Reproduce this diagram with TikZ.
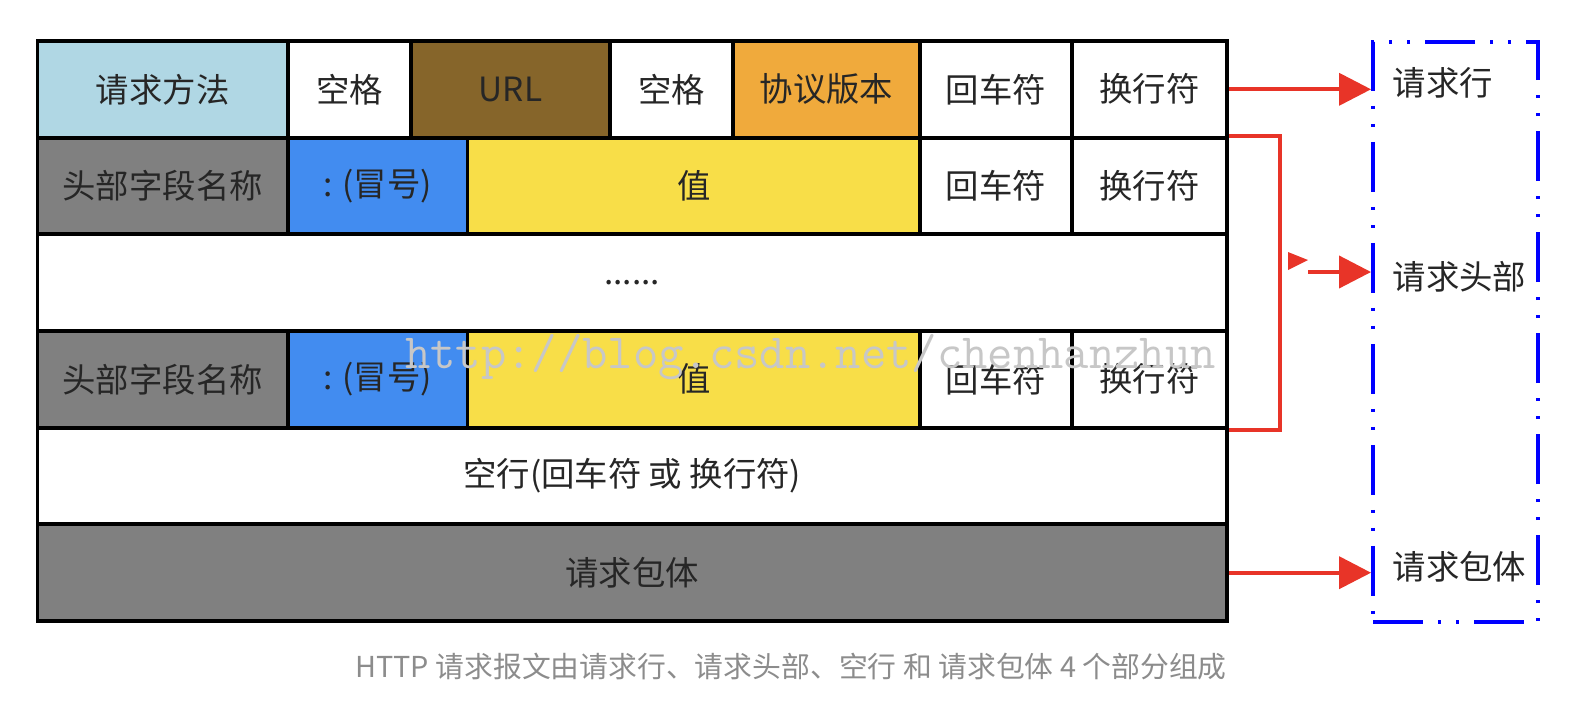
\documentclass[tikz,border=0pt]{standalone}
\usepackage{fontspec}
\setmainfont{Noto Sans CJK SC}
\usetikzlibrary{arrows.meta}

\definecolor{methodblue}{RGB}{176,215,228}
\definecolor{urlbrown}{RGB}{134,101,42}
\definecolor{verorange}{RGB}{240,170,60}
\definecolor{fieldgray}{RGB}{128,128,128}
\definecolor{colonblue}{RGB}{66,140,240}
\definecolor{valueyellow}{RGB}{248,222,72}
\definecolor{arrowred}{RGB}{232,52,40}
\definecolor{capgray}{RGB}{140,140,140}

\begin{document}
\begin{tikzpicture}[
    cell/.style={draw=black, line width=1.1pt, inner sep=0pt, minimum height=0.9667cm,
      text=black!85, font=\fontsize{9.5}{11}\selectfont},
    redline/.style={draw=arrowred, line width=1.1pt},
    redarrow/.style={redline, -{Triangle[length=3.2mm, width=3.2mm]}},
    grouplabel/.style={anchor=west, inner sep=0pt, text=black!85, font=\fontsize{9.5}{11}\selectfont}
  ]
  \useasboundingbox (0,0) rectangle (15.9,-7.04);

  \node[cell, fill=methodblue,  minimum width=2.505cm] (method) at (1.6275,-0.893) {请求方法};
  \node[cell, fill=white,       minimum width=1.23cm]  (sp1)    at (3.495,-0.893)  {空格};
  \node[cell, fill=urlbrown,    minimum width=1.99cm]  (url)    at (5.105,-0.893)  {URL};
  \node[cell, fill=white,       minimum width=1.23cm]  (sp2)    at (6.715,-0.893)  {空格};
  \node[cell, fill=verorange,   minimum width=1.87cm]  (ver)    at (8.265,-0.893)  {协议版本};
  \node[cell, fill=white,       minimum width=1.52cm]  (cr1)    at (9.96,-0.893)   {回车符};
  \node[cell, fill=white,       minimum width=1.55cm]  (lf1)    at (11.495,-0.893) {换行符};

  \node[cell, fill=fieldgray,   minimum width=2.505cm] (name2)  at (1.6275,-1.86)  {头部字段名称};
  \node[cell, fill=colonblue,   minimum width=1.795cm] (colon2) at (3.7775,-1.86)  {: (冒号)};
  \node[cell, fill=valueyellow, minimum width=4.525cm] (value2) at (6.9375,-1.86)  {值};
  \node[cell, fill=white,       minimum width=1.52cm]  (cr2)    at (9.96,-1.86)    {回车符};
  \node[cell, fill=white,       minimum width=1.55cm]  (lf2)    at (11.495,-1.86)  {换行符};

  \node[cell, fill=white,       minimum width=11.895cm] (more)  at (6.3225,-2.827) {......};

  \node[cell, fill=fieldgray,   minimum width=2.505cm] (name4)  at (1.6275,-3.793) {头部字段名称};
  \node[cell, fill=colonblue,   minimum width=1.795cm] (colon4) at (3.7775,-3.793) {: (冒号)};
  \node[cell, fill=valueyellow, minimum width=4.525cm] (value4) at (6.9375,-3.793) {值};
  \node[cell, fill=white,       minimum width=1.52cm]  (cr4)    at (9.96,-3.793)   {回车符};
  \node[cell, fill=white,       minimum width=1.55cm]  (lf4)    at (11.495,-3.793) {换行符};

  \node[cell, fill=white,       minimum width=11.895cm] (blank) at (6.3225,-4.76)  {空行(回车符 或 换行符)};
  \node[cell, fill=fieldgray,   minimum width=11.895cm] (body)  at (6.3225,-5.727) {请求包体};

  \node[draw=blue, line width=1.1pt, inner sep=0pt, minimum width=1.65cm, minimum height=5.80cm,
    dash pattern=on 0.5cm off 0.15cm on 0.03cm off 0.15cm on 0.03cm off 0.15cm] (groups) at (14.555,-3.32) {};

  \node[grouplabel] (lblline) at (13.92,-0.83) {请求行};
  \node[grouplabel] (lblhead) at (13.92,-2.77) {请求头部};
  \node[grouplabel] (lblbody) at (13.92,-5.67) {请求包体};

  \draw[redarrow] (lf1.east) -- (groups.west |- lf1.east);
  \draw[redline] (lf2.north east) -- ++(0.51,0) |- (lf4.south east);
  \fill[arrowred] (12.88,-2.52) -- (13.08,-2.60) -- (12.88,-2.70) -- cycle;
  \coordinate (hstart) at (13.08,-2.72);
  \draw[redarrow] (hstart) -- (groups.west |- hstart);
  \draw[redarrow] (body.east) -- (groups.west |- body.east);

  \node[text=black!22, font=\ttfamily\fontsize{14}{16}\selectfont] (mark) at (8.105,-3.57) {http://blog.csdn.net/chenhanzhun};

  \node[text=capgray, font=\fontsize{8.2}{10}\selectfont] (caption) at (7.91,-6.67)
    {HTTP 请求报文由请求行、请求头部、空行 和 请求包体 4 个部分组成};
\end{tikzpicture}
\end{document}
